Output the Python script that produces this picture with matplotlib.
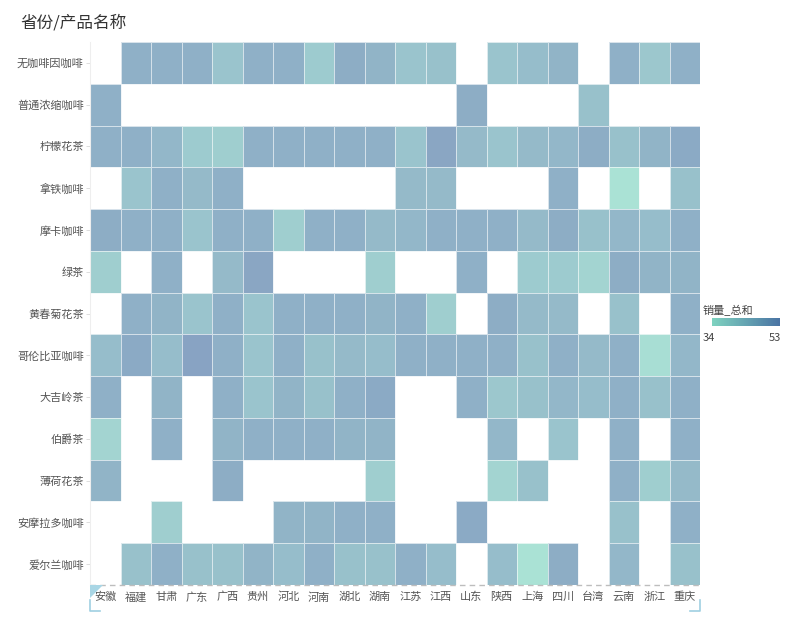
import numpy as np
import matplotlib.pyplot as plt
from matplotlib.colors import LinearSegmentedColormap, Normalize
from matplotlib.lines import Line2D
from matplotlib.patches import Polygon

plt.rcParams['font.family'] = ['Noto Sans CJK SC', 'DejaVu Sans']

# 数据
provinces = ["安徽", "福建", "甘肃", "广东", "广西", "贵州", "河北", "河南", "湖北", "湖南",
             "江苏", "江西", "山东", "陕西", "上海", "四川", "台湾", "云南", "浙江", "重庆"]
products = ["无咖啡因咖啡", "普通浓缩咖啡", "柠檬花茶", "拿铁咖啡", "摩卡咖啡", "绿茶", "黄春菊花茶",
            "哥伦比亚咖啡", "大吉岭茶", "伯爵茶", "薄荷花茶", "安摩拉多咖啡", "爱尔兰咖啡"]
n = np.nan
sales = [
    [n, 49, 49, 49, 43, 49, 49, 41, 50, 48, 43, 44, n, 43, 45, 48, n, 49, 42, 49],
    [49, n, n, n, n, n, n, n, n, n, n, n, 50, n, n, n, 44, n, n, n],
    [49, 49, 47, 41, 40, 49, 49, 49, 49, 49, 43, 52, 46, 43, 46, 47, 50, 44, 48, 51],
    [n, 43, 49, 46, 49, n, n, n, n, n, 46, 46, n, n, n, 49, n, 34, n, 44],
    [50, 49, 49, 43, 49, 49, 40, 49, 49, 46, 47, 49, 49, 49, 46, 50, 44, 47, 45, 49],
    [40, n, 49, n, 46, 52, n, n, n, 40, n, n, 49, n, 41, 41, 38, 50, 48, 48],
    [n, 49, 48, 43, 49, 43, 49, 49, 49, 48, 49, 40, n, 50, 46, 46, n, 44, n, 49],
    [45, 51, 45, 53, 49, 43, 49, 44, 46, 45, 49, 49, 49, 49, 44, 49, 46, 49, 35, 47],
    [49, n, 48, n, 49, 43, 48, 44, 49, 51, n, n, 49, 42, 44, 47, 45, 49, 44, 49],
    [38, n, 49, n, 48, 49, 49, 49, 48, 48, n, n, n, 47, n, 43, n, 49, n, 49],
    [48, n, n, n, 50, n, n, n, n, 40, n, n, n, 38, 44, n, n, 49, 40, 46],
    [n, n, 40, n, n, n, 48, 48, 49, 49, n, n, 51, n, n, n, n, 44, n, 49],
    [n, 44, 49, 44, 44, 48, 45, 49, 44, 44, 49, 45, n, 45, 34, 50, n, 47, n, 44],
]
vmin, vmax = 34, 53

W, H = 797, 618
cmap = LinearSegmentedColormap.from_list("tealblue", ["#7fd3c0", "#4a74a4"])
norm = Normalize(vmin, vmax)

fig = plt.figure(figsize=(W / 100, H / 100), dpi=100)
ax = fig.add_axes([90 / W, 1 - 585 / H, 610 / W, 543 / H])

data = np.ma.masked_invalid(np.array(sales, dtype=float))
ax.pcolormesh(data, cmap=cmap, norm=norm, alpha=0.66,
              edgecolors=(1, 1, 1, 0.12), linewidth=0.5)
ax.set_xlim(0, len(provinces))
ax.set_ylim(len(products), 0)

ax.set_xticks(np.arange(len(provinces)) + 0.5, provinces)
ax.set_yticks(np.arange(len(products)) + 0.5, products)
ax.tick_params(axis="x", length=0, pad=5, labelsize=8, labelcolor="#555555")
ax.tick_params(axis="y", length=3, width=0.6, color="#d8d8d8", pad=1.5,
               labelsize=8, labelcolor="#555555")
for s in ["top", "right", "bottom"]:
    ax.spines[s].set_visible(False)
ax.spines["left"].set_color("#eeeeee")
ax.spines["left"].set_linewidth(0.8)

# 底部虚线
ax.axhline(len(products), color="#bdbdbd", lw=1, ls=(0, (4, 3)), clip_on=False)

# 选中框角标
def fx(x):
    return x / W

def fy(y):
    return 1 - y / H

bc = "#9fd0e2"
fig.add_artist(Line2D([fx(90), fx(90), fx(100)], [fy(600), fy(611), fy(611)], color=bc, lw=1.2))
fig.add_artist(Line2D([fx(700), fx(700), fx(690)], [fy(600), fy(611), fy(611)], color=bc, lw=1.2))
fig.add_artist(Polygon([[fx(90), fy(585)], [fx(103), fy(585)], [fx(90), fy(598)]],
                       closed=True, facecolor="#a9d6e5", edgecolor="none"))

# 标题
fig.text(fx(20), fy(23), "省份/产品名称", fontsize=12, color="#333333", va="center", ha="left")

# 图例
cax = fig.add_axes([fx(712), fy(326), 68 / W, 8 / H])
grad = np.linspace(vmin, vmax, 256).reshape(1, -1)
cax.imshow(grad, aspect="auto", cmap=cmap, norm=norm, extent=[vmin, vmax, 0, 1])
cax.set_axis_off()
fig.text(fx(703), fy(311), "销量_总和", fontsize=8, color="#444444", va="center", ha="left")
fig.text(fx(703), fy(338), str(vmin), fontsize=8, color="#444444", va="center", ha="left")
fig.text(fx(781), fy(338), str(vmax), fontsize=8, color="#444444", va="center", ha="right")

fig.savefig("out.png", dpi=100)
